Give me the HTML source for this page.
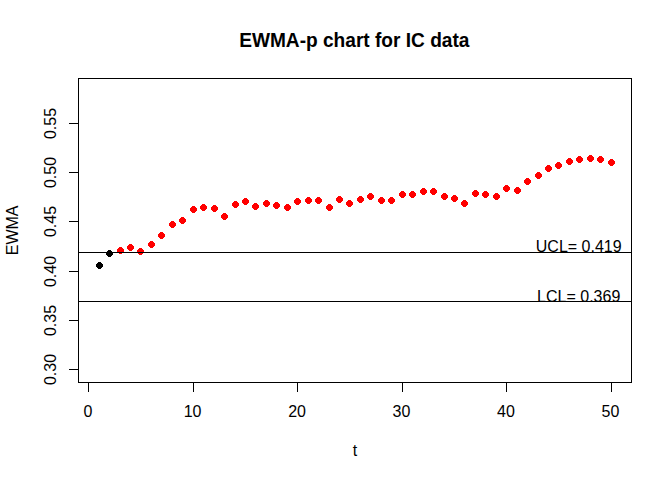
<!DOCTYPE html>
<html><head><meta charset="utf-8"><title>EWMA-p chart for IC data</title>
<style>
html,body{margin:0;padding:0;background:#fff;}
svg{display:block;}
text{font-family:"Liberation Sans",Arial,sans-serif;font-size:16px;fill:#000;}
.main{font-size:19px;font-weight:bold;}
</style></head>
<body>
<svg width="672" height="480" viewBox="0 0 672 480">
<rect x="0" y="0" width="672" height="480" fill="#fff"/>
<g fill="#000" shape-rendering="crispEdges">
<rect x="78" y="78" width="554" height="1"/>
<rect x="78" y="382" width="554" height="1"/>
<rect x="78" y="78" width="1" height="305"/>
<rect x="631" y="78" width="1" height="305"/>
<rect x="88" y="382" width="1" height="10"/>
<rect x="193" y="382" width="1" height="10"/>
<rect x="297" y="382" width="1" height="10"/>
<rect x="402" y="382" width="1" height="10"/>
<rect x="506" y="382" width="1" height="10"/>
<rect x="611" y="382" width="1" height="10"/>
<rect x="69" y="369" width="10" height="1"/>
<rect x="69" y="320" width="10" height="1"/>
<rect x="69" y="271" width="10" height="1"/>
<rect x="69" y="221" width="10" height="1"/>
<rect x="69" y="172" width="10" height="1"/>
<rect x="69" y="123" width="10" height="1"/>
</g>
<g shape-rendering="crispEdges">
<path d="M98,262h3v1h1v1h1v3h-1v1h-1v1h-3v-1h-1v-1h-1v-3h1v-1h1z" fill="#000"/>
<path d="M108,250h3v1h1v1h1v3h-1v1h-1v1h-3v-1h-1v-1h-1v-3h1v-1h1z" fill="#000"/>
<path d="M119,247h3v1h1v1h1v3h-1v1h-1v1h-3v-1h-1v-1h-1v-3h1v-1h1z" fill="#f00"/>
<path d="M129,244h3v1h1v1h1v3h-1v1h-1v1h-3v-1h-1v-1h-1v-3h1v-1h1z" fill="#f00"/>
<path d="M139,248h3v1h1v1h1v3h-1v1h-1v1h-3v-1h-1v-1h-1v-3h1v-1h1z" fill="#f00"/>
<path d="M150,241h3v1h1v1h1v3h-1v1h-1v1h-3v-1h-1v-1h-1v-3h1v-1h1z" fill="#f00"/>
<path d="M160,232h3v1h1v1h1v3h-1v1h-1v1h-3v-1h-1v-1h-1v-3h1v-1h1z" fill="#f00"/>
<path d="M171,221h3v1h1v1h1v3h-1v1h-1v1h-3v-1h-1v-1h-1v-3h1v-1h1z" fill="#f00"/>
<path d="M181,217h3v1h1v1h1v3h-1v1h-1v1h-3v-1h-1v-1h-1v-3h1v-1h1z" fill="#f00"/>
<path d="M192,206h3v1h1v1h1v3h-1v1h-1v1h-3v-1h-1v-1h-1v-3h1v-1h1z" fill="#f00"/>
<path d="M202,204h3v1h1v1h1v3h-1v1h-1v1h-3v-1h-1v-1h-1v-3h1v-1h1z" fill="#f00"/>
<path d="M213,205h3v1h1v1h1v3h-1v1h-1v1h-3v-1h-1v-1h-1v-3h1v-1h1z" fill="#f00"/>
<path d="M223,213h3v1h1v1h1v3h-1v1h-1v1h-3v-1h-1v-1h-1v-3h1v-1h1z" fill="#f00"/>
<path d="M234,201h3v1h1v1h1v3h-1v1h-1v1h-3v-1h-1v-1h-1v-3h1v-1h1z" fill="#f00"/>
<path d="M244,198h3v1h1v1h1v3h-1v1h-1v1h-3v-1h-1v-1h-1v-3h1v-1h1z" fill="#f00"/>
<path d="M254,203h3v1h1v1h1v3h-1v1h-1v1h-3v-1h-1v-1h-1v-3h1v-1h1z" fill="#f00"/>
<path d="M265,200h3v1h1v1h1v3h-1v1h-1v1h-3v-1h-1v-1h-1v-3h1v-1h1z" fill="#f00"/>
<path d="M275,202h3v1h1v1h1v3h-1v1h-1v1h-3v-1h-1v-1h-1v-3h1v-1h1z" fill="#f00"/>
<path d="M286,204h3v1h1v1h1v3h-1v1h-1v1h-3v-1h-1v-1h-1v-3h1v-1h1z" fill="#f00"/>
<path d="M296,198h3v1h1v1h1v3h-1v1h-1v1h-3v-1h-1v-1h-1v-3h1v-1h1z" fill="#f00"/>
<path d="M307,197h3v1h1v1h1v3h-1v1h-1v1h-3v-1h-1v-1h-1v-3h1v-1h1z" fill="#f00"/>
<path d="M317,197h3v1h1v1h1v3h-1v1h-1v1h-3v-1h-1v-1h-1v-3h1v-1h1z" fill="#f00"/>
<path d="M328,204h3v1h1v1h1v3h-1v1h-1v1h-3v-1h-1v-1h-1v-3h1v-1h1z" fill="#f00"/>
<path d="M338,196h3v1h1v1h1v3h-1v1h-1v1h-3v-1h-1v-1h-1v-3h1v-1h1z" fill="#f00"/>
<path d="M348,200h3v1h1v1h1v3h-1v1h-1v1h-3v-1h-1v-1h-1v-3h1v-1h1z" fill="#f00"/>
<path d="M359,196h3v1h1v1h1v3h-1v1h-1v1h-3v-1h-1v-1h-1v-3h1v-1h1z" fill="#f00"/>
<path d="M369,193h3v1h1v1h1v3h-1v1h-1v1h-3v-1h-1v-1h-1v-3h1v-1h1z" fill="#f00"/>
<path d="M380,197h3v1h1v1h1v3h-1v1h-1v1h-3v-1h-1v-1h-1v-3h1v-1h1z" fill="#f00"/>
<path d="M390,197h3v1h1v1h1v3h-1v1h-1v1h-3v-1h-1v-1h-1v-3h1v-1h1z" fill="#f00"/>
<path d="M401,191h3v1h1v1h1v3h-1v1h-1v1h-3v-1h-1v-1h-1v-3h1v-1h1z" fill="#f00"/>
<path d="M411,191h3v1h1v1h1v3h-1v1h-1v1h-3v-1h-1v-1h-1v-3h1v-1h1z" fill="#f00"/>
<path d="M422,188h3v1h1v1h1v3h-1v1h-1v1h-3v-1h-1v-1h-1v-3h1v-1h1z" fill="#f00"/>
<path d="M432,188h3v1h1v1h1v3h-1v1h-1v1h-3v-1h-1v-1h-1v-3h1v-1h1z" fill="#f00"/>
<path d="M443,193h3v1h1v1h1v3h-1v1h-1v1h-3v-1h-1v-1h-1v-3h1v-1h1z" fill="#f00"/>
<path d="M453,195h3v1h1v1h1v3h-1v1h-1v1h-3v-1h-1v-1h-1v-3h1v-1h1z" fill="#f00"/>
<path d="M463,200h3v1h1v1h1v3h-1v1h-1v1h-3v-1h-1v-1h-1v-3h1v-1h1z" fill="#f00"/>
<path d="M474,190h3v1h1v1h1v3h-1v1h-1v1h-3v-1h-1v-1h-1v-3h1v-1h1z" fill="#f00"/>
<path d="M484,191h3v1h1v1h1v3h-1v1h-1v1h-3v-1h-1v-1h-1v-3h1v-1h1z" fill="#f00"/>
<path d="M495,193h3v1h1v1h1v3h-1v1h-1v1h-3v-1h-1v-1h-1v-3h1v-1h1z" fill="#f00"/>
<path d="M505,185h3v1h1v1h1v3h-1v1h-1v1h-3v-1h-1v-1h-1v-3h1v-1h1z" fill="#f00"/>
<path d="M516,187h3v1h1v1h1v3h-1v1h-1v1h-3v-1h-1v-1h-1v-3h1v-1h1z" fill="#f00"/>
<path d="M526,178h3v1h1v1h1v3h-1v1h-1v1h-3v-1h-1v-1h-1v-3h1v-1h1z" fill="#f00"/>
<path d="M537,172h3v1h1v1h1v3h-1v1h-1v1h-3v-1h-1v-1h-1v-3h1v-1h1z" fill="#f00"/>
<path d="M547,165h3v1h1v1h1v3h-1v1h-1v1h-3v-1h-1v-1h-1v-3h1v-1h1z" fill="#f00"/>
<path d="M557,162h3v1h1v1h1v3h-1v1h-1v1h-3v-1h-1v-1h-1v-3h1v-1h1z" fill="#f00"/>
<path d="M568,158h3v1h1v1h1v3h-1v1h-1v1h-3v-1h-1v-1h-1v-3h1v-1h1z" fill="#f00"/>
<path d="M578,156h3v1h1v1h1v3h-1v1h-1v1h-3v-1h-1v-1h-1v-3h1v-1h1z" fill="#f00"/>
<path d="M589,155h3v1h1v1h1v3h-1v1h-1v1h-3v-1h-1v-1h-1v-3h1v-1h1z" fill="#f00"/>
<path d="M599,156h3v1h1v1h1v3h-1v1h-1v1h-3v-1h-1v-1h-1v-3h1v-1h1z" fill="#f00"/>
<path d="M610,159h3v1h1v1h1v3h-1v1h-1v1h-3v-1h-1v-1h-1v-3h1v-1h1z" fill="#f00"/>
<rect x="78" y="252" width="554" height="1"/>
<rect x="78" y="301" width="554" height="1"/>
</g>
<text class="main" transform="translate(354.3 47) scale(1.006 1.04)" text-anchor="middle">EWMA-p chart for IC data</text>
<text x="354.9" y="456" text-anchor="middle">t</text>
<text transform="translate(17.6 230.4) rotate(-90)" text-anchor="middle">EWMA</text>
<text x="88.05" y="417" text-anchor="middle">0</text>
<text x="192.54" y="417" text-anchor="middle">10</text>
<text x="297.03" y="417" text-anchor="middle">20</text>
<text x="401.52" y="417" text-anchor="middle">30</text>
<text x="506.01" y="417" text-anchor="middle">40</text>
<text x="610.50" y="417" text-anchor="middle">50</text>
<text transform="translate(56 369.5) rotate(-90)" text-anchor="middle">0.30</text>
<text transform="translate(56 320.5) rotate(-90)" text-anchor="middle">0.35</text>
<text transform="translate(56 271.5) rotate(-90)" text-anchor="middle">0.40</text>
<text transform="translate(56 221.5) rotate(-90)" text-anchor="middle">0.45</text>
<text transform="translate(56 172.5) rotate(-90)" text-anchor="middle">0.50</text>
<text transform="translate(56 123.5) rotate(-90)" text-anchor="middle">0.55</text>
<text x="578.7" y="252.4" text-anchor="middle">UCL= 0.419</text>
<text x="578.7" y="302.3" text-anchor="middle">LCL= 0.369</text>
</svg>
</body></html>
